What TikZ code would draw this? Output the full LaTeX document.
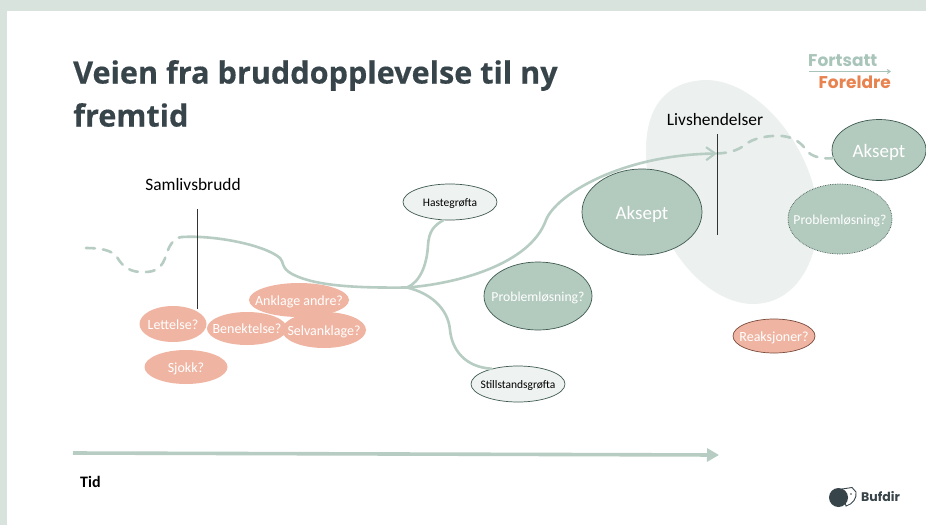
\documentclass[tikz,border=0pt]{standalone}
\usepackage{fontspec}
\setmainfont{Carlito}
\newfontfamily\titlefont[BoldFeatures={FakeBold=0.4}]{Open Sans}
\newfontfamily\logofont{Poppins}
\usetikzlibrary{shapes.geometric,arrows.meta}
\definecolor{bgband}{HTML}{D8E3DD}
\definecolor{sage}{HTML}{B3CABF}
\definecolor{sageline}{HTML}{B7CDC3}
\definecolor{sagedark}{HTML}{3F5A50}
\definecolor{blob}{HTML}{ECF1EF}
\definecolor{pale}{HTML}{EEF2F0}
\definecolor{peach}{HTML}{F0B5A2}
\definecolor{peachdark}{HTML}{7A4A3C}
\definecolor{slate}{HTML}{37444A}
\definecolor{logoorange}{HTML}{E8834F}
\definecolor{logosage}{HTML}{A9C5BA}
\newcommand{\ovaltext}[1]{\makebox[0pt]{\raisebox{-.37em}[0pt][0pt]{#1}}}
\tikzset{
  oval/.style n args={2}{ellipse,inner sep=0pt,minimum width=#1pt,minimum height=#2pt,text=white},
  peachoval/.style={fill=peach,font=\fontsize{14}{16}\selectfont},
  sageoval/.style={fill=sage,draw=sagedark,line width=.7pt},
  paleoval/.style={fill=pale,draw=sagedark,line width=.7pt,text=black,font=\fontsize{11.5}{13}\selectfont},
  road/.style={draw=sageline,line width=2.6pt,line cap=round},
  roaddash/.style={road,dash pattern=on 9pt off 8pt},
  marker/.style={draw=black!80,line width=.9pt},
  eventlabel/.style={text=black,font=\fontsize{17.4}{20}\selectfont,inner sep=0pt}
}
\begin{document}
\begin{tikzpicture}[x=1pt,y=-1pt]
\useasboundingbox (0,0) rectangle (926,525);
\fill[bgband] (0,0) rectangle (926,525);
\fill[white] (7,11) rectangle (926,525);
% light blob
\fill[blob] (646,150) .. controls (646,105) and (668,80) .. (708,80)
  .. controls (760,82) and (815,150) .. (818,215)
  .. controls (819,262) and (795,304) .. (753,304)
  .. controls (705,304) and (646,240) .. (646,150) -- cycle;
% title
\node[anchor=west,inner sep=0pt,text=slate,font=\titlefont\bfseries\fontsize{30.6}{38}\selectfont] (title1) at (73,75.5) {Veien fra bruddopplevelse til ny};
\node[anchor=west,inner sep=0pt,text=slate,font=\titlefont\bfseries\fontsize{30.6}{38}\selectfont] (title2) at (73,115) {fremtid};
% logo
\node[anchor=west,inner sep=0pt,text=logosage,font=\logofont\bfseries\fontsize{17}{20}\selectfont] (fort) at (808,61) {Fortsatt};
\node[anchor=east,inner sep=0pt,text=logoorange,font=\logofont\bfseries\fontsize{17}{20}\selectfont] (fore) at (891,82) {Foreldre};
\coordinate (ruleA) at (809,71.5);
\coordinate (ruleB) at (891,71.5);
\draw[logosage,line width=1pt,-{Straight Barb[length=3pt,width=4pt]}] (ruleA) -- (ruleB);
% nodes
\node[oval={67}{36},peachoval] (lett) at (173,324) {\ovaltext{Lettelse?}};
\node[oval={84}{36},peachoval] (selv) at (324,330) {\ovaltext{Selvanklage?}};
\node[oval={80}{33},peachoval] (bene) at (247,328.5) {\ovaltext{Benektelse?}};
\node[oval={100}{34},peachoval] (ankl) at (299,300) {\ovaltext{Anklage andre?}};
\node[oval={83}{34},peachoval] (sjokk) at (186,367) {\ovaltext{Sjokk?}};
\node[oval={82}{34},peachoval,draw=peachdark,line width=.7pt] (reak) at (774,336) {\ovaltext{Reaksjoner?}};
\node[oval={94}{36},paleoval] (hast) at (450,202) {\ovaltext{Hastegrøfta}};
\node[oval={94}{36},paleoval] (still) at (518,384) {\ovaltext{Stillstandsgrøfta}};
\coordinate (hub) at (407,287.5);
\coordinate (dashstart) at (86,248);
\coordinate (breakpt) at (182,237);
\coordinate (lifept) at (717,153.5);
% roads
\draw[roaddash] (dashstart) .. controls (100,248) and (112,250) .. (117,257) .. controls (122,266) and (130,273) .. (145,272) .. controls (165,272) and (165,255) .. (168,250) .. controls (172,240) and (178,237) .. (breakpt);
\draw[road] (breakpt) .. controls (215,235) and (265,245) .. (280,258) .. controls (284,262) and (281,268) .. (292,274) .. controls (315,286) and (355,288) .. (hub);
\draw[road] (hub) .. controls (420,282) and (427,265) .. (428,245) .. controls (429,232) and (433,226) .. (hast.250);
\draw[road] (hub) .. controls (430,293) and (448,308) .. (450,330) .. controls (452,350) and (465,367) .. (still.150);
\node[oval={120}{86},sageoval,font=\fontsize{19}{22}\selectfont] (aks1) at (642,212) {\ovaltext{Aksept}};
\draw[road,-{Straight Barb[length=9pt,width=13pt,line width=2.2pt]}] (hub) .. controls (455,284) and (530,265) .. (546,220) .. controls (556,195) and (620,155) .. (lifept);
\node[oval={108}{68},sageoval,font=\fontsize{13.7}{16}\selectfont] (prob1) at (538,296) {\ovaltext{Problemløsning?}};
\node[oval={94}{61},sageoval,font=\fontsize{19}{22}\selectfont] (aks2) at (879,150) {\ovaltext{Aksept}};
\node[oval={104}{70},fill=sage,draw=sagedark,densely dotted,line width=.7pt,font=\fontsize{13.7}{16}\selectfont] (prob2) at (840,219) {\ovaltext{Problemløsning?}};
\draw[roaddash] (lifept) .. controls (730,153) and (738,150) .. (745,145) .. controls (752,138) and (770,135) .. (782,136) .. controls (795,137) and (803,145) .. (806,150) .. controls (812,158) and (825,159) .. (aks2.190);
% event markers
\node[eventlabel] (saml) at (193,185) {Samlivsbrudd};
\node[eventlabel] (livs) at (715,120) {Livshendelser};
\coordinate (samlA) at (197,209);
\coordinate (samlB) at (197,309);
\coordinate (livsA) at (717,134);
\coordinate (livsB) at (717,235);
\draw[marker] (samlA) -- (samlB);
\draw[marker] (livsA) -- (livsB);
% time axis
\coordinate (axisA) at (73,453);
\coordinate (axisB) at (719,455);
\draw[sageline,line width=3.6pt,-{Triangle[length=12pt,width=13pt]}] (axisA) -- (axisB);
\node[anchor=west,inner sep=0pt,text=black,font=\bfseries\fontsize{16}{19}\selectfont] (tid) at (80,482) {Tid};
% Bufdir logo
\draw[slate,fill=white,line width=.9pt] (842,489) -- (852,487.5) -- (856,492) .. controls (857,498) and (853,504) .. (846,506) -- cycle;
\fill[slate] (838.5,497.5) circle (9.5);
\fill[white] (847,490.5) .. controls (850,495) and (850,501) .. (847,505) -- (850,503) -- (850,491) -- cycle;
\fill[slate] (851,494) circle (.9);
\node[anchor=west,inner sep=0pt,text=slate,font=\logofont\bfseries\fontsize{12.5}{15}\selectfont] (buf) at (861,497) {Bufdir};
\end{tikzpicture}
\end{document}
